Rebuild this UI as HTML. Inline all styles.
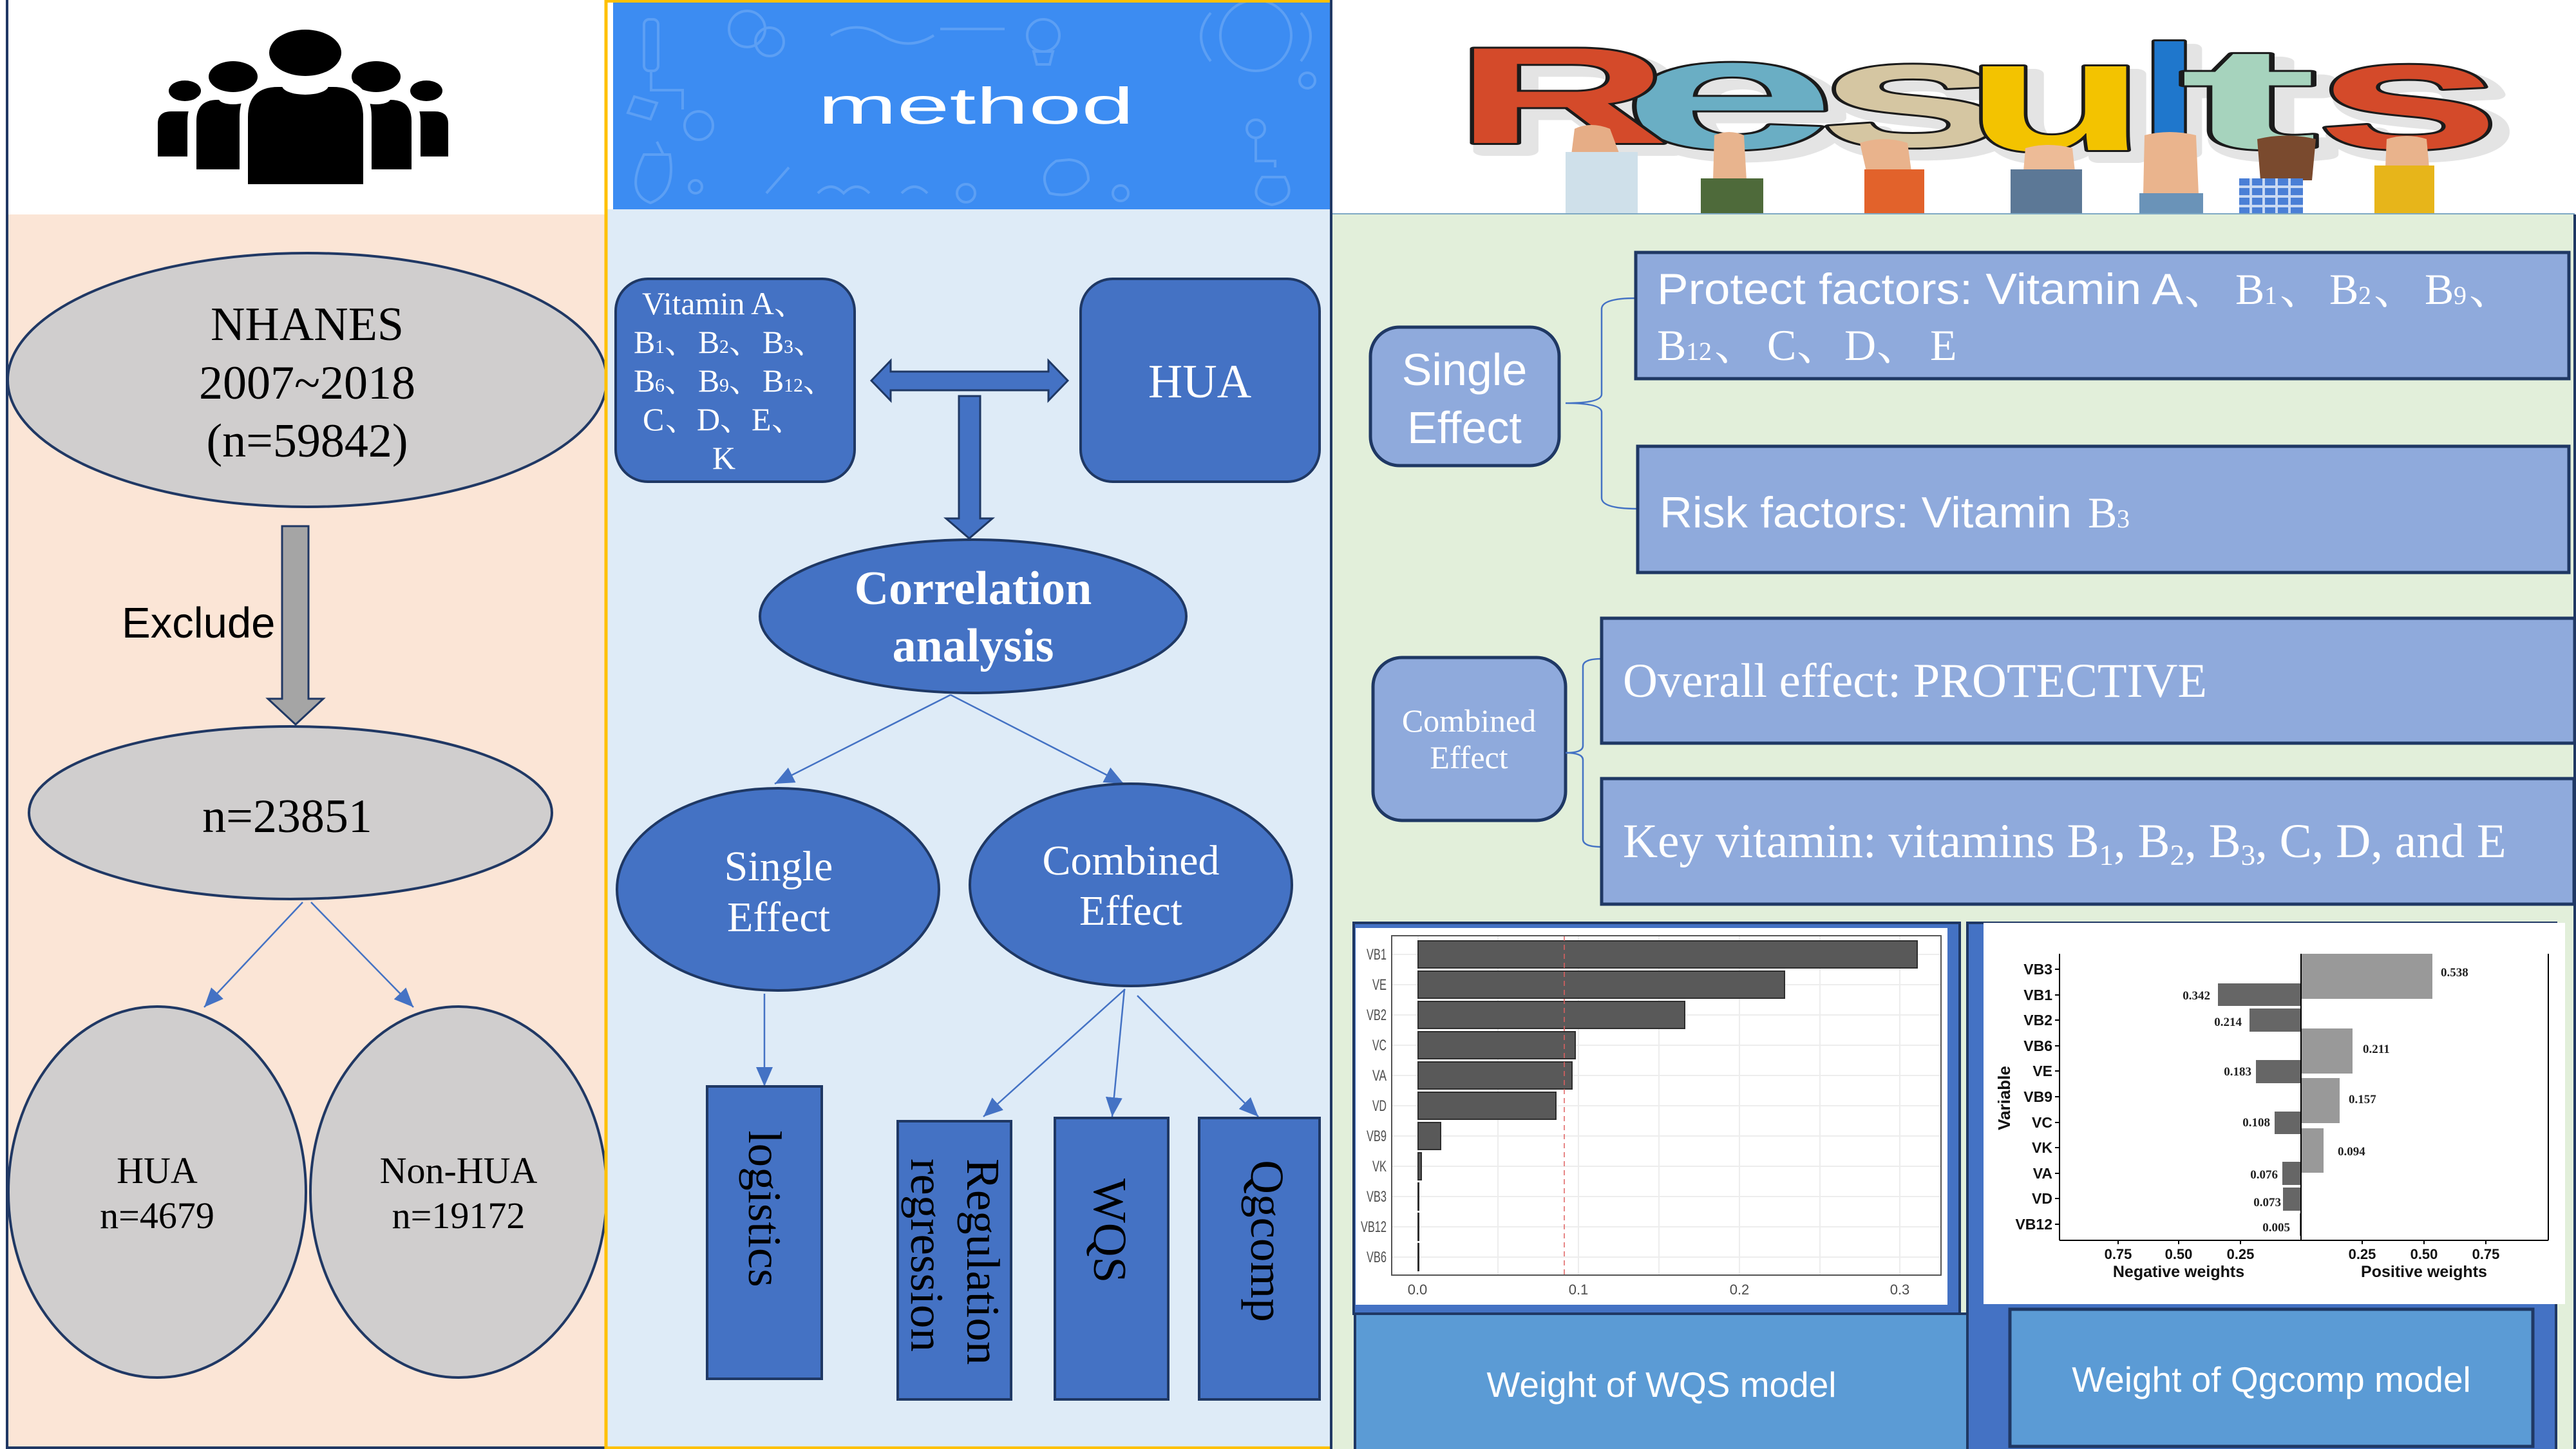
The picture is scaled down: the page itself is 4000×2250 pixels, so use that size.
<!DOCTYPE html>
<html>
<head>
<meta charset="utf-8">
<style>
html,body{margin:0;padding:0;background:#fff;}
body{width:4000px;height:2250px;overflow:hidden;}
svg{display:block;}
.serif{font-family:"Liberation Serif","Noto Serif CJK SC",serif;}
.sans{font-family:"Liberation Sans","Noto Sans CJK SC",sans-serif;}
</style>
</head>
<body>
<svg width="4000" height="2250" viewBox="0 0 4000 2250" xmlns="http://www.w3.org/2000/svg">
<defs>
<marker id="ah" markerUnits="userSpaceOnUse" markerWidth="32" markerHeight="26" refX="30" refY="13" orient="auto">
<path d="M0,0 L30,13 L0,26 z" fill="#4472c4"/>
</marker>
</defs>
<rect x="0" y="0" width="4000" height="2250" fill="#ffffff"/>

<!-- ============ LEFT PANEL ============ -->
<rect x="11" y="333" width="930" height="1915" fill="#fbe5d6"/>
<!-- people icon -->
<g fill="#000">
<path d="M245,243 L245,192 Q245,173 266,173 L325,173 L325,243 Z"/>
<path d="M696,243 L696,192 Q696,173 675,173 L625,173 L625,243 Z"/>
<ellipse cx="287" cy="141" rx="25" ry="16" stroke="#fff" stroke-width="8" paint-order="stroke"/>
<ellipse cx="662" cy="141" rx="25" ry="16" stroke="#fff" stroke-width="8" paint-order="stroke"/>
<path d="M305,263 L305,188 Q305,155 338,155 L420,155 L420,263 Z" stroke="#fff" stroke-width="28" paint-order="stroke"/>
<path d="M639,263 L639,188 Q639,155 606,155 L530,155 L530,263 Z" stroke="#fff" stroke-width="28" paint-order="stroke"/>
<ellipse cx="362" cy="119" rx="38" ry="24" stroke="#fff" stroke-width="10" paint-order="stroke"/>
<ellipse cx="584" cy="119" rx="38" ry="24" stroke="#fff" stroke-width="10" paint-order="stroke"/>
<path d="M385,286 L385,182 Q385,135 432,135 L517,135 Q564,135 564,182 L564,286 Z" stroke="#fff" stroke-width="26" paint-order="stroke"/>
<ellipse cx="474" cy="82" rx="56" ry="36" stroke="#fff" stroke-width="12" paint-order="stroke"/>
</g>
<ellipse cx="474" cy="133" rx="36" ry="14" fill="#fff"/>
<ellipse cx="362" cy="154" rx="22" ry="8" fill="#fff"/>
<ellipse cx="584" cy="154" rx="22" ry="8" fill="#fff"/>

<!-- NHANES -->
<ellipse cx="477" cy="590" rx="465" ry="197" fill="#d0cece" stroke="#203864" stroke-width="4"/>
<g class="serif" font-size="74" fill="#000" text-anchor="middle">
<text x="477" y="528">NHANES</text>
<text x="477" y="619">2007~2018</text>
<text x="477" y="709">(n=59842)</text>
</g>
<polygon points="438,817 479,817 479,1085 502,1085 459,1125 416,1085 438,1085" fill="#a5a5a5" stroke="#203864" stroke-width="3"/>
<text x="189" y="990" class="sans" font-size="67" fill="#000">Exclude</text>
<ellipse cx="451" cy="1262" rx="406" ry="134" fill="#d0cece" stroke="#203864" stroke-width="4"/>
<text x="446" y="1292" class="serif" font-size="74" fill="#000" text-anchor="middle">n=23851</text>
<line x1="470" y1="1401" x2="317" y2="1564" stroke="#4472c4" stroke-width="2.5" marker-end="url(#ah)"/>
<line x1="483" y1="1401" x2="642" y2="1564" stroke="#4472c4" stroke-width="2.5" marker-end="url(#ah)"/>
<ellipse cx="244" cy="1851" rx="231" ry="288" fill="#d0cece" stroke="#203864" stroke-width="4"/>
<ellipse cx="712" cy="1851" rx="230" ry="288" fill="#d0cece" stroke="#203864" stroke-width="4"/>
<g class="serif" font-size="58" fill="#000" text-anchor="middle">
<text x="244" y="1837">HUA</text>
<text x="244" y="1907">n=4679</text>
<text x="712" y="1837">Non-HUA</text>
<text x="712" y="1907">n=19172</text>
</g>
<line x1="11" y1="0" x2="11" y2="2250" stroke="#203864" stroke-width="4"/>
<line x1="11" y1="2248" x2="941" y2="2248" stroke="#203864" stroke-width="4"/>

<!-- ============ MIDDLE PANEL ============ -->
<rect x="941" y="325" width="1126" height="1923" fill="#deebf7"/>
<rect x="952" y="3" width="1114" height="322" fill="#3c8cf2"/>
<g fill="none" stroke="#77b0f7" stroke-width="4" opacity="0.55">
<rect x="1000" y="30" width="22" height="80" rx="8"/>
<path d="M1011,110 L1011,140 L1060,140 L1060,170"/>
<circle cx="1085" cy="195" r="22"/>
<circle cx="1160" cy="45" r="28"/>
<circle cx="1195" cy="65" r="22"/>
<path d="M1290,55 Q1330,30 1370,55 T1450,55"/>
<path d="M1460,45 L1560,45"/>
<circle cx="1620" cy="55" r="25"/>
<path d="M1605,80 L1635,80 L1630,100 L1610,100 Z"/>
<circle cx="1950" cy="55" r="55"/>
<path d="M1880,20 Q1850,55 1880,95"/>
<path d="M2020,20 Q2050,55 2020,95"/>
<circle cx="2030" cy="125" r="12"/>
<path d="M985,150 L1020,160 L1010,185 L975,175 Z"/>
<path d="M1000,240 Q970,300 1010,315 Q1050,300 1040,240 Z"/>
<path d="M1020,220 L1030,240"/>
<circle cx="1080" cy="290" r="10"/>
<path d="M1190,300 L1225,260"/>
<path d="M1270,300 Q1290,280 1310,300 Q1330,280 1350,300"/>
<path d="M1400,300 Q1420,280 1440,300"/>
<circle cx="1500" cy="300" r="14"/>
<path d="M1640,250 Q1610,270 1630,300 Q1670,310 1690,280 Q1690,250 1660,248 Z"/>
<circle cx="1740" cy="300" r="12"/>
<circle cx="1950" cy="200" r="14"/>
<path d="M1950,215 L1950,250 L1980,250 L1980,260"/>
<path d="M1960,275 Q1935,310 1975,318 Q2015,310 1995,275 Z"/>
</g>
<text x="1270" y="192" class="sans" font-size="80" fill="#ffffff" textLength="491" lengthAdjust="spacingAndGlyphs">method</text>

<!-- Vitamin box -->
<rect x="956" y="433" width="371" height="315" rx="50" fill="#4472c4" stroke="#1f3864" stroke-width="4"/>
<g class="serif" fill="#ffffff" font-size="50">
<text x="997" y="488" textLength="205" lengthAdjust="spacingAndGlyphs">Vitamin A</text>
<text x="1202" y="488">、</text>
<text x="984" y="548">B</text><text x="1017" y="548" font-size="30">1</text><text x="1032" y="548">、</text>
<text x="1084" y="548">B</text><text x="1117" y="548" font-size="30">2</text><text x="1132" y="548">、</text>
<text x="1184" y="548">B</text><text x="1217" y="548" font-size="30">3</text><text x="1232" y="548">、</text>
<text x="984" y="608">B</text><text x="1017" y="608" font-size="30">6</text><text x="1032" y="608">、</text>
<text x="1084" y="608">B</text><text x="1117" y="608" font-size="30">9</text><text x="1132" y="608">、</text>
<text x="1184" y="608">B</text><text x="1217" y="608" font-size="30">12</text><text x="1247" y="608">、</text>
<text x="998" y="668">C</text><text x="1033" y="668">、</text>
<text x="1082" y="668">D</text><text x="1118" y="668">、</text>
<text x="1167" y="668">E</text><text x="1198" y="668">、</text>
<text x="1106" y="728">K</text>
</g>
<!-- HUA box -->
<rect x="1678" y="433" width="371" height="315" rx="50" fill="#4472c4" stroke="#1f3864" stroke-width="4"/>
<text x="1863" y="617" class="serif" font-size="74" fill="#ffffff" text-anchor="middle">HUA</text>
<!-- double arrow -->
<polygon points="1353,591 1383,560 1383,577 1628,577 1628,560 1658,591 1628,622 1628,606 1383,606 1383,622" fill="#4472c4" stroke="#1f3864" stroke-width="3"/>
<polygon points="1489,615 1522,615 1522,805 1541,805 1505,836 1469,805 1489,805" fill="#4472c4" stroke="#1f3864" stroke-width="3"/>
<!-- correlation -->
<ellipse cx="1511" cy="957" rx="331" ry="119" fill="#4472c4" stroke="#1f3864" stroke-width="4"/>
<g class="serif" font-size="74" font-weight="bold" fill="#ffffff" text-anchor="middle">
<text x="1511" y="938">Correlation</text>
<text x="1511" y="1027">analysis</text>
</g>
<line x1="1476" y1="1079" x2="1203" y2="1217" stroke="#4472c4" stroke-width="2.5" marker-end="url(#ah)"/>
<line x1="1476" y1="1079" x2="1745" y2="1217" stroke="#4472c4" stroke-width="2.5" marker-end="url(#ah)"/>
<ellipse cx="1208" cy="1381" rx="250" ry="157" fill="#4472c4" stroke="#1f3864" stroke-width="4"/>
<ellipse cx="1756" cy="1374" rx="250" ry="157" fill="#4472c4" stroke="#1f3864" stroke-width="4"/>
<g class="serif" font-size="66" fill="#ffffff" text-anchor="middle">
<text x="1209" y="1367">Single</text>
<text x="1209" y="1446">Effect</text>
<text x="1756" y="1358">Combined</text>
<text x="1756" y="1436">Effect</text>
</g>
<line x1="1187" y1="1543" x2="1187" y2="1687" stroke="#4472c4" stroke-width="2.5" marker-end="url(#ah)"/>
<line x1="1747" y1="1536" x2="1527" y2="1734" stroke="#4472c4" stroke-width="2.5" marker-end="url(#ah)"/>
<line x1="1746" y1="1536" x2="1727" y2="1734" stroke="#4472c4" stroke-width="2.5" marker-end="url(#ah)"/>
<line x1="1766" y1="1546" x2="1954" y2="1734" stroke="#4472c4" stroke-width="2.5" marker-end="url(#ah)"/>
<rect x="1098" y="1687" width="178" height="454" fill="#4472c4" stroke="#1f3864" stroke-width="4"/>
<rect x="1394" y="1741" width="176" height="432" fill="#4472c4" stroke="#1f3864" stroke-width="4"/>
<rect x="1638" y="1736" width="176" height="437" fill="#4472c4" stroke="#1f3864" stroke-width="4"/>
<rect x="1862" y="1736" width="187" height="437" fill="#4472c4" stroke="#1f3864" stroke-width="4"/>
<g class="serif" font-size="73" fill="#000">
<text transform="translate(1163,1877) rotate(90)" text-anchor="middle">logistics</text>
<text transform="translate(1502,1799) rotate(90)">Regulation</text>
<text transform="translate(1415,1799) rotate(90)">regression</text>
<text transform="translate(1699,1911) rotate(90)" text-anchor="middle">WQS</text>
<text transform="translate(1943,1927) rotate(90)" text-anchor="middle">Qgcomp</text>
</g>
<line x1="941" y1="0" x2="941" y2="2250" stroke="#ffc000" stroke-width="5"/>
<line x1="941" y1="2" x2="2067" y2="2" stroke="#ffc000" stroke-width="4"/>
<line x1="941" y1="2248" x2="2067" y2="2248" stroke="#ffc000" stroke-width="4"/>

<!-- ============ RIGHT PANEL ============ -->
<rect x="2069" y="333" width="1929" height="1917" fill="#e2efda"/>
<!-- Results header: shadow layer -->
<g font-family="Liberation Sans, sans-serif" font-weight="bold" fill="#e4e4e4" stroke="#e4e4e4" stroke-width="16" stroke-linejoin="round" transform="translate(16,12)">
<text x="2518" y="230" font-size="246" textLength="334" lengthAdjust="spacingAndGlyphs">e</text>
<text x="2258" y="222" font-size="213" textLength="334" lengthAdjust="spacingAndGlyphs">R</text>
<text x="2821" y="227" font-size="235" textLength="297" lengthAdjust="spacingAndGlyphs">s</text>
<text x="3050" y="233" font-size="246" textLength="284" lengthAdjust="spacingAndGlyphs">u</text>
<text x="3322" y="225" font-size="222" textLength="93" lengthAdjust="spacingAndGlyphs">l</text>
<text x="3384" y="230" font-size="224" textLength="216" lengthAdjust="spacingAndGlyphs">t</text>
<text x="3594" y="230" font-size="240" textLength="291" lengthAdjust="spacingAndGlyphs">s</text>
</g>
<g font-family="Liberation Sans, sans-serif" font-weight="bold" stroke="#1b1b1b" stroke-width="6" paint-order="stroke" stroke-linejoin="round">
<text x="2518" y="230" font-size="246" textLength="334" lengthAdjust="spacingAndGlyphs" fill="#6aaec4">e</text>
<text x="2258" y="222" font-size="213" textLength="334" lengthAdjust="spacingAndGlyphs" fill="#d44a2a">R</text>
<text x="2821" y="227" font-size="235" textLength="297" lengthAdjust="spacingAndGlyphs" fill="#d5c6a2">s</text>
<text x="3050" y="233" font-size="246" textLength="284" lengthAdjust="spacingAndGlyphs" fill="#f3c300">u</text>
<text x="3322" y="225" font-size="222" textLength="93" lengthAdjust="spacingAndGlyphs" fill="#1f77cc">l</text>
<text x="3384" y="230" font-size="224" textLength="216" lengthAdjust="spacingAndGlyphs" fill="#a6d3bd">t</text>
<text x="3594" y="230" font-size="240" textLength="291" lengthAdjust="spacingAndGlyphs" fill="#d44a2a">s</text>
</g>
<!-- arms -->
<g>
<path d="M2440,240 L2445,200 Q2470,188 2500,200 L2515,240 Z" fill="#e6ad86"/>
<rect x="2431" y="236" width="112" height="97" fill="#cfe0ea"/>
<path d="M2662,210 Q2685,200 2708,210 L2712,280 L2660,280 Z" fill="#e8b48e"/>
<rect x="2641" y="277" width="97" height="56" fill="#4e6a3a"/>
<path d="M2888,222 Q2925,210 2962,222 L2968,266 L2898,266 Z" fill="#e9b38c"/>
<rect x="2895" y="263" width="93" height="70" fill="#e2622b"/>
<path d="M3145,230 Q3180,220 3218,230 L3222,266 L3142,266 Z" fill="#edbb97"/>
<rect x="3122" y="263" width="111" height="70" fill="#5c7896"/>
<path d="M3330,210 Q3368,200 3410,210 L3414,302 L3328,302 Z" fill="#eab48d"/>
<rect x="3322" y="300" width="99" height="33" fill="#6a93b8"/>
<path d="M3505,216 Q3550,205 3596,216 L3590,280 L3510,280 Z" fill="#7a4a2e"/>
<rect x="3477" y="277" width="99" height="56" fill="#4a7fd6"/>
<g stroke="#ffffff" stroke-width="4" opacity="0.7">
<line x1="3477" y1="290" x2="3576" y2="290"/><line x1="3477" y1="305" x2="3576" y2="305"/><line x1="3477" y1="320" x2="3576" y2="320"/>
<line x1="3495" y1="277" x2="3495" y2="333"/><line x1="3515" y1="277" x2="3515" y2="333"/><line x1="3535" y1="277" x2="3535" y2="333"/><line x1="3555" y1="277" x2="3555" y2="333"/>
</g>
<path d="M3706,216 Q3737,206 3768,216 L3772,260 L3704,260 Z" fill="#e9b38c"/>
<rect x="3687" y="257" width="93" height="76" fill="#e7b51a"/>
</g>
<line x1="2067" y1="332" x2="3998" y2="332" stroke="#7fa9c4" stroke-width="2"/>

<!-- single effect block -->
<rect x="2128" y="508" width="293" height="215" rx="45" fill="#8faadc" stroke="#1f3864" stroke-width="5"/>
<g class="sans" font-size="70" fill="#ffffff" text-anchor="middle">
<text x="2274" y="598">Single</text>
<text x="2274" y="688">Effect</text>
</g>
<path d="M2540,463 Q2487,463 2487,480 L2487,612 Q2487,626 2431,626 Q2487,626 2487,640 L2487,773 Q2487,790 2543,790" fill="none" stroke="#4472c4" stroke-width="2.5"/>
<rect x="2540" y="392" width="1449" height="196" fill="#8faadc" stroke="#1f3864" stroke-width="5"/>
<rect x="2543" y="693" width="1446" height="196" fill="#8faadc" stroke="#1f3864" stroke-width="5"/>
<g fill="#ffffff">
<text x="2573" y="472" class="sans" font-size="68" textLength="817" lengthAdjust="spacingAndGlyphs">Protect factors: Vitamin A</text>
<g class="serif" font-size="68">
<text x="3392" y="472">、</text>
<text x="3471" y="472">B</text><text x="3516" y="472" font-size="40">1</text><text x="3540" y="472">、</text>
<text x="3617" y="472">B</text><text x="3662" y="472" font-size="40">2</text><text x="3686" y="472">、</text>
<text x="3765" y="472">B</text><text x="3810" y="472" font-size="40">9</text><text x="3834" y="472">、</text>
<text x="2573" y="559">B</text><text x="2618" y="559" font-size="40">12</text><text x="2662" y="559">、</text>
<text x="2744" y="559">C</text><text x="2790" y="559">、</text>
<text x="2864" y="559">D</text><text x="2914" y="559">、</text>
<text x="2997" y="559">E</text>
</g>
<text x="2577" y="819" class="sans" font-size="68" textLength="640" lengthAdjust="spacingAndGlyphs">Risk factors: Vitamin</text>
<text x="3242" y="819" class="serif" font-size="68">B</text>
<text x="3287" y="819" class="serif" font-size="40">3</text>
</g>

<!-- combined effect block -->
<rect x="2132" y="1021" width="299" height="253" rx="45" fill="#8faadc" stroke="#1f3864" stroke-width="5"/>
<g class="serif" font-size="50" fill="#ffffff" text-anchor="middle">
<text x="2281" y="1136">Combined</text>
<text x="2281" y="1193">Effect</text>
</g>
<path d="M2487,1023 Q2458,1023 2458,1035 L2458,1158 Q2458,1169 2431,1169 Q2458,1169 2458,1180 L2458,1303 Q2458,1315 2487,1315" fill="none" stroke="#4472c4" stroke-width="2.5"/>
<rect x="2487" y="960" width="1511" height="194" fill="#8faadc" stroke="#1f3864" stroke-width="5"/>
<rect x="2487" y="1209" width="1510" height="195" fill="#8faadc" stroke="#1f3864" stroke-width="5"/>
<g class="serif" font-size="75" fill="#ffffff">
<text x="2520" y="1082" textLength="907" lengthAdjust="spacingAndGlyphs">Overall effect: PROTECTIVE</text>
<text x="2520" y="1331">Key vitamin: vitamins B<tspan font-size="45" dy="12">1</tspan><tspan dy="-12">, B</tspan><tspan font-size="45" dy="12">2</tspan><tspan dy="-12">, B</tspan><tspan font-size="45" dy="12">3</tspan><tspan dy="-12">, C, D, and E</tspan></text>
</g>

<!-- WQS chart -->
<rect x="2102" y="1433" width="941" height="607" fill="#4472c4" stroke="#1f3864" stroke-width="4"/>
<rect x="2105" y="1441" width="919" height="585" fill="#ffffff"/>
<g stroke="#ededed" stroke-width="2">
<line x1="2326" y1="1453" x2="2326" y2="1980"/><line x1="2576" y1="1453" x2="2576" y2="1980"/><line x1="2826" y1="1453" x2="2826" y2="1980"/>
<line x1="2202" y1="1453" x2="2202" y2="1980"/><line x1="2451" y1="1453" x2="2451" y2="1980"/><line x1="2701" y1="1453" x2="2701" y2="1980"/><line x1="2950" y1="1453" x2="2950" y2="1980"/>
<line x1="2161" y1="1482" x2="3014" y2="1482"/><line x1="2161" y1="1529" x2="3014" y2="1529"/><line x1="2161" y1="1576" x2="3014" y2="1576"/><line x1="2161" y1="1623" x2="3014" y2="1623"/><line x1="2161" y1="1670" x2="3014" y2="1670"/><line x1="2161" y1="1717" x2="3014" y2="1717"/><line x1="2161" y1="1764" x2="3014" y2="1764"/><line x1="2161" y1="1811" x2="3014" y2="1811"/><line x1="2161" y1="1858" x2="3014" y2="1858"/><line x1="2161" y1="1905" x2="3014" y2="1905"/><line x1="2161" y1="1952" x2="3014" y2="1952"/>
</g>
<g fill="#595959" stroke="#2e2e2e" stroke-width="2">
<rect x="2202" y="1461" width="775" height="42"/>
<rect x="2202" y="1508" width="569" height="42"/>
<rect x="2202" y="1555" width="414" height="42"/>
<rect x="2202" y="1602" width="244" height="42"/>
<rect x="2202" y="1649" width="239" height="42"/>
<rect x="2202" y="1696" width="214" height="42"/>
<rect x="2202" y="1743" width="35" height="42"/>
<rect x="2202" y="1790" width="5" height="42"/>
<rect x="2202" y="1837" width="1" height="42"/>
<rect x="2202" y="1884" width="1" height="42"/>
<rect x="2202" y="1931" width="1" height="42"/>
</g>
<line x1="2429" y1="1453" x2="2429" y2="1980" stroke="#e06060" stroke-width="1.5" stroke-dasharray="8,6"/>
<rect x="2161" y="1453" width="853" height="527" fill="none" stroke="#555" stroke-width="2"/>
<g class="sans" font-size="24" fill="#4d4d4d" text-anchor="end">
<text x="2153" y="1490" textLength="31" lengthAdjust="spacingAndGlyphs">VB1</text>
<text x="2153" y="1537" textLength="22" lengthAdjust="spacingAndGlyphs">VE</text>
<text x="2153" y="1584" textLength="31" lengthAdjust="spacingAndGlyphs">VB2</text>
<text x="2153" y="1631" textLength="22" lengthAdjust="spacingAndGlyphs">VC</text>
<text x="2153" y="1678" textLength="22" lengthAdjust="spacingAndGlyphs">VA</text>
<text x="2153" y="1725" textLength="22" lengthAdjust="spacingAndGlyphs">VD</text>
<text x="2153" y="1772" textLength="31" lengthAdjust="spacingAndGlyphs">VB9</text>
<text x="2153" y="1819" textLength="22" lengthAdjust="spacingAndGlyphs">VK</text>
<text x="2153" y="1866" textLength="31" lengthAdjust="spacingAndGlyphs">VB3</text>
<text x="2153" y="1913" textLength="40" lengthAdjust="spacingAndGlyphs">VB12</text>
<text x="2153" y="1960" textLength="31" lengthAdjust="spacingAndGlyphs">VB6</text>
</g>
<g class="sans" font-size="22" fill="#4d4d4d" text-anchor="middle">
<text x="2201" y="2010">0.0</text><text x="2451" y="2010">0.1</text><text x="2701" y="2010">0.2</text><text x="2950" y="2010">0.3</text>
</g>
<rect x="2104" y="2040" width="952" height="212" fill="#5b9bd5" stroke="#1f3864" stroke-width="4"/>
<text x="2580" y="2169" class="sans" font-size="55" fill="#ffffff" text-anchor="middle">Weight of WQS model</text>

<!-- Qgcomp chart -->
<rect x="3055" y="1433" width="914" height="819" fill="#4472c4" stroke="#1f3864" stroke-width="4"/>
<rect x="3080" y="1433" width="903" height="592" fill="#ffffff"/>
<g fill="#999999">
<rect x="3573" y="1481" width="204" height="70"/>
<rect x="3573" y="1597" width="80" height="70"/>
<rect x="3573" y="1674" width="60" height="70"/>
<rect x="3573" y="1752" width="35" height="69"/>
</g>
<g fill="#666666">
<rect x="3444" y="1527" width="129" height="35"/>
<rect x="3493" y="1566" width="80" height="36"/>
<rect x="3503" y="1646" width="70" height="36"/>
<rect x="3532" y="1726" width="41" height="35"/>
<rect x="3544" y="1804" width="29" height="36"/>
<rect x="3545" y="1844" width="28" height="36"/>
<rect x="3571" y="1884" width="2" height="35"/>
</g>
<g stroke="#000" stroke-width="2">
<line x1="3198" y1="1481" x2="3198" y2="1926"/>
<line x1="3198" y1="1926" x2="3957" y2="1926"/>
<line x1="3957" y1="1481" x2="3957" y2="1926"/>
<line x1="3573" y1="1481" x2="3573" y2="1926"/>
<line x1="3191" y1="1505" x2="3198" y2="1505"/><line x1="3191" y1="1545" x2="3198" y2="1545"/><line x1="3191" y1="1584" x2="3198" y2="1584"/><line x1="3191" y1="1624" x2="3198" y2="1624"/><line x1="3191" y1="1663" x2="3198" y2="1663"/><line x1="3191" y1="1703" x2="3198" y2="1703"/><line x1="3191" y1="1743" x2="3198" y2="1743"/><line x1="3191" y1="1782" x2="3198" y2="1782"/><line x1="3191" y1="1822" x2="3198" y2="1822"/><line x1="3191" y1="1861" x2="3198" y2="1861"/><line x1="3191" y1="1901" x2="3198" y2="1901"/>
<line x1="3289" y1="1926" x2="3289" y2="1932"/><line x1="3383" y1="1926" x2="3383" y2="1932"/><line x1="3479" y1="1926" x2="3479" y2="1932"/>
<line x1="3668" y1="1926" x2="3668" y2="1932"/><line x1="3764" y1="1926" x2="3764" y2="1932"/><line x1="3860" y1="1926" x2="3860" y2="1932"/>
</g>
<g class="sans" font-size="23" font-weight="bold" fill="#111" text-anchor="end">
<text x="3187" y="1513">VB3</text>
<text x="3187" y="1553">VB1</text>
<text x="3187" y="1592">VB2</text>
<text x="3187" y="1632">VB6</text>
<text x="3187" y="1671">VE</text>
<text x="3187" y="1711">VB9</text>
<text x="3187" y="1751">VC</text>
<text x="3187" y="1790">VK</text>
<text x="3187" y="1830">VA</text>
<text x="3187" y="1869">VD</text>
<text x="3187" y="1909">VB12</text>
</g>
<text transform="translate(3121,1705) rotate(-90)" class="sans" font-size="26" font-weight="bold" fill="#111" text-anchor="middle">Variable</text>
<g class="serif" font-size="19" font-weight="bold" fill="#222">
<text x="3790" y="1516">0.538</text>
<text x="3432" y="1552" text-anchor="end">0.342</text>
<text x="3481" y="1593" text-anchor="end">0.214</text>
<text x="3669" y="1635">0.211</text>
<text x="3496" y="1670" text-anchor="end">0.183</text>
<text x="3647" y="1713">0.157</text>
<text x="3525" y="1749" text-anchor="end">0.108</text>
<text x="3630" y="1794">0.094</text>
<text x="3537" y="1830" text-anchor="end">0.076</text>
<text x="3542" y="1873" text-anchor="end">0.073</text>
<text x="3556" y="1912" text-anchor="end">0.005</text>
</g>
<g class="sans" font-size="22" font-weight="bold" fill="#111" text-anchor="middle">
<text x="3289" y="1955">0.75</text><text x="3383" y="1955">0.50</text><text x="3479" y="1955">0.25</text>
<text x="3668" y="1955">0.25</text><text x="3764" y="1955">0.50</text><text x="3860" y="1955">0.75</text>
</g>
<g class="sans" font-size="25" font-weight="bold" fill="#111" text-anchor="middle">
<text x="3383" y="1983">Negative weights</text>
<text x="3764" y="1983">Positive weights</text>
</g>
<rect x="3121" y="2033" width="812" height="213" fill="#5b9bd5" stroke="#1f3864" stroke-width="5"/>
<text x="3527" y="2161" class="sans" font-size="55" fill="#ffffff" text-anchor="middle">Weight of Qgcomp model</text>

<line x1="2067" y1="0" x2="2067" y2="2250" stroke="#203864" stroke-width="4"/>
<line x1="3998" y1="333" x2="3998" y2="2250" stroke="#203864" stroke-width="4"/>
</svg>
</body>
</html>
